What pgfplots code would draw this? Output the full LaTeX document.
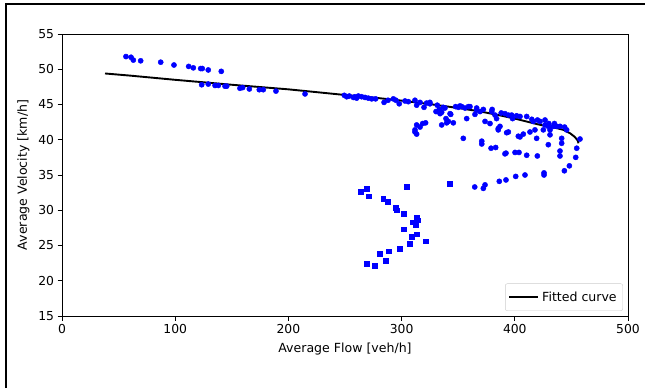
\documentclass[border=0pt]{standalone}
\usepackage{pgfplots}
\pgfplotsset{compat=1.18}
\usepackage{fontspec}
\setmainfont{DejaVu Sans}
\begin{document}
\begin{tikzpicture}[x=1bp,y=1bp]
\draw[line width=2bp] (6,0) -- (6,384) -- (645,384);
\begin{axis}[
 at={(62bp,72bp)}, anchor=south west, scale only axis, width=566bp, height=282bp,
 xmin=0,xmax=500,ymin=15,ymax=55,
 xtick={0,100,...,500}, ytick={15,20,...,55},
 tick pos=left, tick align=outside, major tick length=4.5bp,
 major tick style={black, line width=0.9bp},
 axis line style={line width=0.9bp},
 /pgf/number format/assume math mode=true,
 tick label style={font=\fontsize{12.4}{14}\selectfont},
 label style={font=\fontsize{12.6}{14}\selectfont},
 xlabel={Average Flow [veh/h]}, ylabel={Average Velocity [km/h]},
 xlabel style={yshift=-3bp}, ylabel style={yshift=2bp},
 legend style={at={(0.991,0.018)}, anchor=south east, draw=black!20, rounded corners=2bp, font=\fontsize{12.6}{14}\selectfont, inner xsep=3bp, inner ysep=5bp, nodes={inner xsep=3bp, inner ysep=3bp}},
 legend cell align=left,
 legend image code/.code={\draw[#1] (0bp,0bp) -- (26bp,0bp); \path (0bp,0bp) -- (29bp,0bp);},
]
\addplot[only marks, mark=*, color=blue, mark size=2.6bp, forget plot] table {
x y
56.5 51.8
61.0 51.7
63.0 51.3
69.5 51.2
87.2 51.0
98.9 50.6
111.9 50.4
116.0 50.2
122.5 50.1
123.9 50.1
129.2 49.9
140.7 49.7
123.4 47.8
129.2 47.9
135.2 47.7
138.1 47.7
144.0 47.6
145.5 47.6
157.2 47.3
159.6 47.4
165.5 47.2
174.3 47.1
177.8 47.1
189.0 46.9
214.7 46.5
249.4 46.3
253.8 46.2
258.8 46.1
261.8 46.2
251.5 46.1
257.4 46.0
260.3 45.9
264.7 46.1
267.7 46.0
270.6 45.9
273.6 45.8
277.0 45.8
288.0 45.6
284.5 45.3
292.7 45.8
295.0 45.6
297.9 45.1
303.0 45.5
306.0 45.4
311.8 45.6
313.3 44.9
316.3 45.3
319.8 44.6
322.1 45.2
325.0 45.1
325.0 45.3
331.5 44.9
333.3 44.3
330.4 44.0
332.4 44.0
334.0 43.7
336.8 44.6
339.2 43.0
343.4 43.6
339.8 42.4
335.4 42.1
345.7 42.4
347.7 44.7
351.6 44.8
356.0 44.5
357.5 43.0
360.4 44.7
366.3 44.5
364.8 43.6
311.8 41.4
313.3 42.1
316.3 41.8
318.6 42.3
321.2 42.4
311.8 41.1
313.3 40.8
354.5 40.2
364.6 33.3
335.4 43.9
341.3 42.6
338.3 44.5
342.8 43.7
350.1 44.6
353.1 44.7
359.0 44.7
366.3 44.2
369.3 44.0
372.2 44.3
373.7 42.6
378.1 42.3
379.6 44.0
380.0 44.3
382.5 43.5
385.4 41.4
385.4 41.6
386.9 41.9
383.9 43.0
388.0 43.8
391.3 43.7
394.3 43.5
394.3 41.1
392.8 41.0
397.2 43.5
398.0 43.0
401.6 43.4
404.6 43.3
404.6 40.4
403.1 40.5
407.5 40.8
410.5 43.3
413.4 41.1
415.0 42.9
416.3 42.6
417.8 41.4
419.3 40.2
420.0 42.8
422.3 42.6
426.7 42.8
425.2 41.4
426.7 42.1
429.6 41.9
430.0 42.3
431.1 40.7
431.1 41.4
434.0 41.9
435.0 42.3
437.0 41.9
440.0 41.9
444.0 41.8
441.4 40.2
441.4 39.5
439.9 38.4
439.9 37.7
445.8 41.4
454.7 38.8
457.6 40.1
453.8 37.5
448.2 36.3
443.8 35.6
370.8 39.8
370.8 39.4
379.0 38.8
383.1 38.9
391.3 38.0
392.2 38.1
400.2 38.2
403.7 38.2
410.5 37.8
419.9 37.7
429.6 39.3
372.2 33.1
373.7 33.6
386.3 34.1
392.2 34.3
400.8 34.8
409.0 35.0
425.8 35.3
425.8 35.0
};
\addplot[only marks, mark=square*, color=blue, mark size=2.4bp, forget plot] table {
x y
264.1 32.6
269.1 33.1
270.9 32.0
283.8 31.6
287.4 31.2
295.1 30.4
296.0 30.0
302.0 29.5
304.8 33.3
342.8 33.8
310.0 28.3
313.0 28.9
314.5 28.6
312.5 28.0
302.0 27.3
309.0 26.2
313.6 26.6
321.6 25.6
307.4 25.2
298.6 24.6
288.9 24.2
280.9 23.8
286.2 22.9
276.5 22.1
269.4 22.4
};
\addplot[black, line width=1.9bp] table {
x y
38 49.4
60 49.1
100 48.5
150 47.8
200 47.15
250 46.35
280 45.9
300 45.55
330 44.95
350 44.5
370 44.0
390 43.35
400 43.0
410 42.6
420 42.2
430 41.85
437 41.65
443 41.4
449 40.9
453 40.4
455.5 39.9
456.3 39.5
};
\addlegendentry{Fitted curve}
\end{axis}
\pgfresetboundingbox
\useasboundingbox (0,0) rectangle (645,388);
\end{tikzpicture}
\end{document}
